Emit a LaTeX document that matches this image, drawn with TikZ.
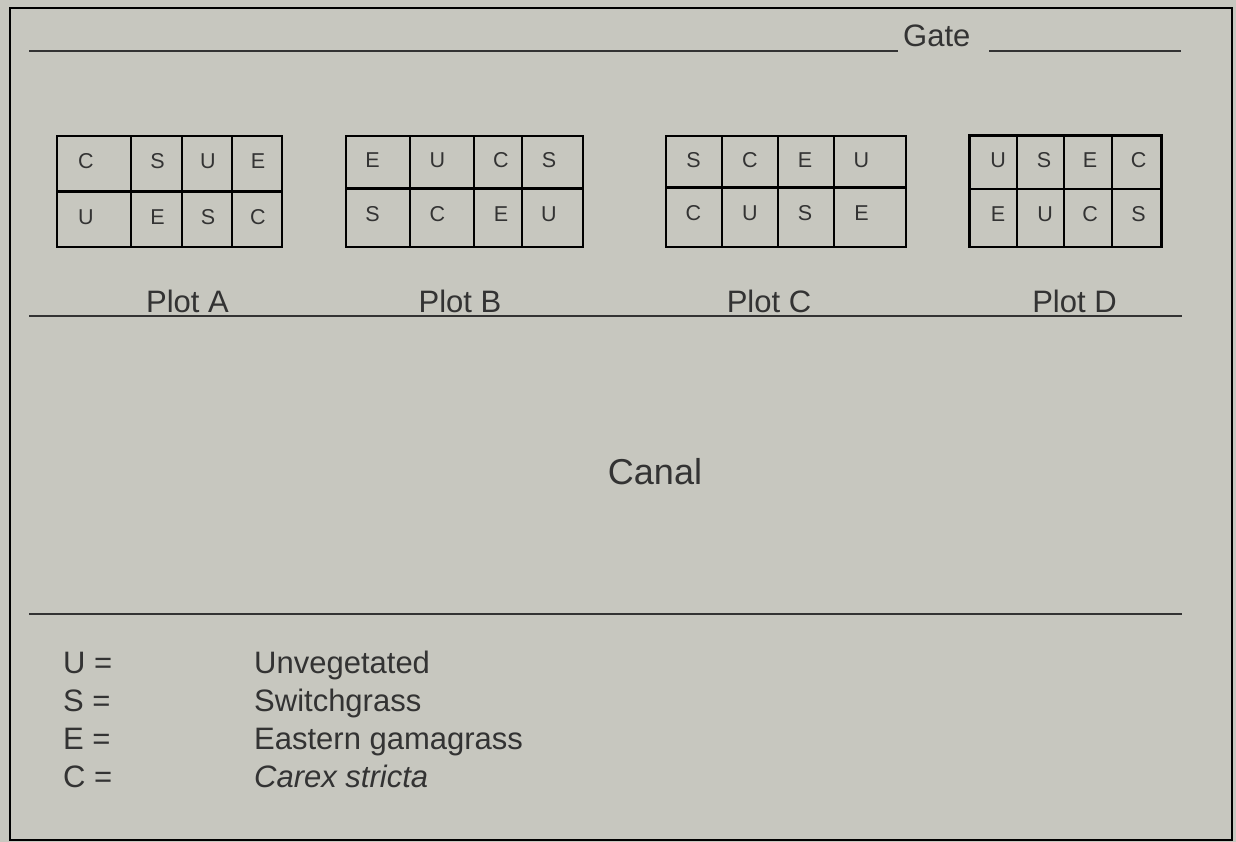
\documentclass[tikz,border=0pt]{standalone}
\usepackage{fontspec}
\setmainfont{Liberation Sans}
\definecolor{bg}{RGB}{199,199,191}
\definecolor{ink}{RGB}{51,51,51}
\begin{document}
\begin{tikzpicture}[x=1pt,y=-1pt,
  rule/.style={draw=ink,line width=2pt},
  grid/.style={draw=black,line width=2.5pt},
  cell/.style={inner sep=0pt,text=ink,font=\fontsize{21.5}{25}\selectfont},
  lbl/.style={inner sep=0pt,text=ink,font=\fontsize{31}{37}\selectfont,anchor=base},
  leg/.style={inner sep=0pt,text=ink,font=\fontsize{31}{37}\selectfont,anchor=base west}]
\useasboundingbox (0,0) rectangle (1236,842);
\fill[bg] (0,0) rectangle (1236,842);
\draw[black,line width=2pt] (10,8) rectangle (1232,840);
% gate line
\draw[rule] (29,51) -- (898,51);
\draw[rule] (989,51) -- (1181,51);
\node[leg] (gate) at (903,47) {Gate};
% plot row line and canal line
\draw[rule] (29,316) -- (1182,316);
\draw[rule] (29,614) -- (1182,614);
% Plot A
\draw[grid] (57,136) rectangle (282,247);
\draw[grid] (57,191.5) -- (282,191.5);
\foreach \x in {131,182,232} \draw[grid] (\x,136) -- (\x,247);
\node[cell] (a1) at (86,161.5) {C};
\node[cell] (a2) at (157.5,161.5) {S};
\node[cell] (a3) at (208,161.5) {U};
\node[cell] (a4) at (258,161.5) {E};
\node[cell] (a5) at (86,217) {U};
\node[cell] (a6) at (157.5,217) {E};
\node[cell] (a7) at (208,217) {S};
\node[cell] (a8) at (258,217) {C};
% Plot B
\draw[grid] (346,136) rectangle (583,247);
\draw[grid] (346,188.5) -- (583,188.5);
\foreach \x in {410,474,522} \draw[grid] (\x,136) -- (\x,247);
\node[cell] (b1) at (372.5,160.5) {E};
\node[cell] (b2) at (437.5,160.5) {U};
\node[cell] (b3) at (501,160.5) {C};
\node[cell] (b4) at (549,160.5) {S};
\node[cell] (b5) at (372.5,214) {S};
\node[cell] (b6) at (437.5,214) {C};
\node[cell] (b7) at (501,214) {E};
\node[cell] (b8) at (549,214) {U};
% Plot C
\draw[grid] (666,136) rectangle (906,247);
\draw[grid] (666,187.5) -- (906,187.5);
\foreach \x in {722,778,834} \draw[grid] (\x,136) -- (\x,247);
\node[cell] (c1) at (693.5,160.5) {S};
\node[cell] (c2) at (750,160.5) {C};
\node[cell] (c3) at (805,160.5) {E};
\node[cell] (c4) at (861.5,160.5) {U};
\node[cell] (c5) at (693.5,213.5) {C};
\node[cell] (c6) at (750,213.5) {U};
\node[cell] (c7) at (805,213.5) {S};
\node[cell] (c8) at (861.5,213.5) {E};
% Plot D
\draw[grid] (969.5,135.5) rectangle (1161.5,247);
\draw[grid] (969.5,189) -- (1161.5,189);
\foreach \x in {1017,1064,1112} \draw[grid] (\x,135.5) -- (\x,247);
\node[cell] (d1) at (998,160.5) {U};
\node[cell] (d2) at (1044,160.5) {S};
\node[cell] (d3) at (1090,160.5) {E};
\node[cell] (d4) at (1138.5,160.5) {C};
\node[cell] (d5) at (998,214) {E};
\node[cell] (d6) at (1045,214) {U};
\node[cell] (d7) at (1090,214) {C};
\node[cell] (d8) at (1138.5,214) {S};
% plot labels
\node[lbl] (pa) at (187.5,312) {Plot A};
\node[lbl] (pb) at (460,312) {Plot B};
\node[lbl] (pc) at (769,312) {Plot C};
\node[lbl] (pd) at (1074.5,312) {Plot D};
% canal
\node[lbl,font=\fontsize{36}{43}\selectfont] (canal) at (655,484) {Canal};
% legend
\node[leg] (lu) at (63,673) {U =};
\node[leg] (ls) at (63,711) {S =};
\node[leg] (le) at (63,749) {E =};
\node[leg] (lc) at (63,787) {C =};
\node[leg] (du) at (254,673) {Unvegetated};
\node[leg] (ds) at (254,711) {Switchgrass};
\node[leg] (de) at (254,749) {Eastern gamagrass};
\node[leg] (dc) at (254,787) {\itshape Carex stricta};
\end{tikzpicture}
\end{document}
